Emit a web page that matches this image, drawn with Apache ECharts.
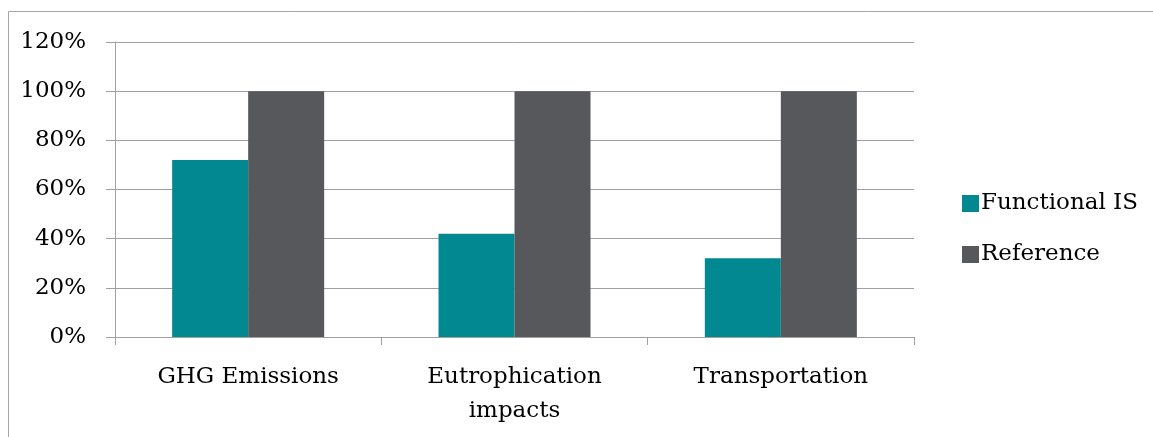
<!DOCTYPE html>
<html>
<head>
<meta charset="utf-8">
<script src="https://cdn.jsdelivr.net/npm/echarts@6/dist/echarts.min.js"></script>
<style>
html,body{margin:0;padding:0;background:#fff;}
#chart{width:1153px;height:437px;}
</style>
</head>
<body>
<div id="chart"></div>
<script>
var categories = ['GHG Emissions', 'Eutrophication\nimpacts', 'Transportation'];
var seriesNames = ['Functional IS', 'Reference'];
var functionalIS = [72, 42, 32];
var reference = [100, 100, 100];
var yTicks = [0, 20, 40, 60, 80, 100, 120];

var FONT = 'DejaVu Serif';
var FS = 23;
var legendText = {fontFamily: FONT, fontSize: FS, color: '#000', padding: [0,0,0,-3]};
var chart = echarts.init(document.getElementById('chart'));
chart.setOption({
  animation: false,
  backgroundColor: '#ffffff',
  graphic: [{
    type: 'rect',
    shape: {x: 8.5, y: 11.5, width: 1300, height: 600},
    style: {fill: 'none', stroke: '#a6a6a6', lineWidth: 1},
    silent: true
  }],
  grid: {left: 115, top: 42, right: 239, bottom: 100, containLabel: false},
  legend: [{
    orient: 'vertical', left: 957, top: 187,
    itemWidth: 17, itemHeight: 17, icon: 'rect',
    textStyle: legendText,
    data: [seriesNames[0]]
  }, {
    orient: 'vertical', left: 957, top: 238,
    itemWidth: 17, itemHeight: 17, icon: 'rect',
    textStyle: legendText,
    data: [seriesNames[1]]
  }],
  xAxis: {
    type: 'category',
    data: categories,
    axisLine: {lineStyle: {color: '#a0a0a0', width: 1}},
    axisTick: {show: true, length: 8, lineStyle: {color: '#a0a0a0'}},
    axisLabel: {fontFamily: FONT, fontSize: FS, color: '#000', margin: 23, lineHeight: 34, interval: 0}
  },
  yAxis: {
    type: 'value',
    min: yTicks[0], max: yTicks[yTicks.length - 1], interval: 20,
    axisLine: {show: true, lineStyle: {color: '#a0a0a0', width: 1}},
    axisTick: {show: true, length: 9, lineStyle: {color: '#a0a0a0'}},
    splitLine: {show: true, lineStyle: {color: '#a0a0a0', width: 1}},
    axisLabel: {fontFamily: FONT, fontSize: FS, color: '#000', margin: 29, formatter: '{value}%'}
  },
  series: [{
    name: seriesNames[0], type: 'bar', data: functionalIS,
    barWidth: 76, barGap: '0%',
    itemStyle: {color: '#018891'}
  }, {
    name: seriesNames[1], type: 'bar', data: reference,
    barWidth: 76, barGap: '0%',
    itemStyle: {color: '#57585c'}
  }]
});
</script>
</body>
</html>
